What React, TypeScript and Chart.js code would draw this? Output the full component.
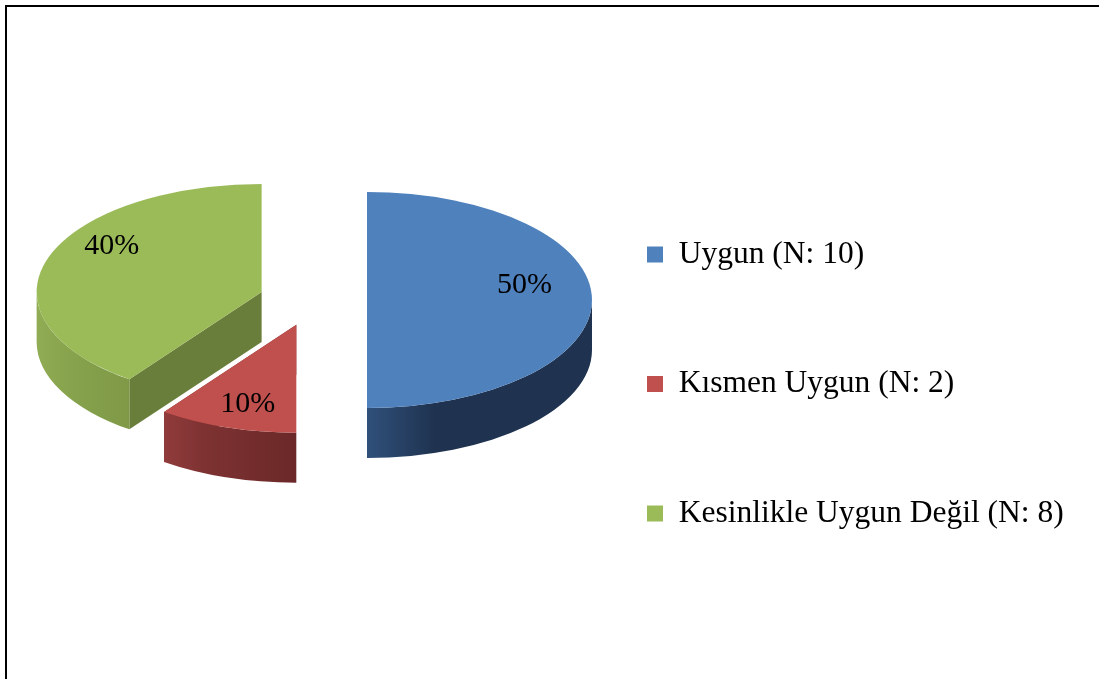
import { useEffect, useRef } from 'react';
import { Chart, registerables } from 'chart.js';

Chart.register(...registerables);

// ---- data ----
const CATEGORIES = ['Uygun (N: 10)', 'Kısmen Uygun (N: 2)', 'Kesinlikle Uygun Değil (N: 8)'];
const COUNTS = [10, 2, 8];

// ---- styles ----
const TOP_COLORS = ['#4f81bd', '#c0504d', '#9bbb59'];
const FACE_COLORS = ['#23395a', '#7a2e2e', '#6a7e3b'];
const WALL_GRADIENTS = [
  ['#30507a', '#1f3350', '#1f3350'],
  ['#913b3b', '#7e3232', '#6b2828'],
  ['#90ad54', '#88a44d', '#7f9947'],
];
const SERIF = "'Liberation Serif', 'Times New Roman', serif";
const TILT = 0.48; // vertical squash of the pie top (3D view)
const DEPTH = 50; // thickness of the pie in px
const EXPLODE = 54; // explosion distance of each slice
const LEGEND_FONT = 31.5;
const LEGEND_PAD = 40;
const LEGEND_BOX = 16;
const LEGEND_X = 647; // left edge of the legend boxes
const CANVAS_W = 1099;
const CANVAS_H = 679;

type Slice = { i: number; cx: number; cy: number; R: number; ry: number; start: number; end: number };

function drawSlice(ctx: CanvasRenderingContext2D, s: Slice) {
  const { i, cx, cy, R, ry, start, end } = s;
  // radial cut faces
  for (const a of [start, end]) {
    const px = cx + R * Math.cos(a);
    const py = cy + ry * Math.sin(a);
    ctx.beginPath();
    ctx.moveTo(cx, cy);
    ctx.lineTo(px, py);
    ctx.lineTo(px, py + DEPTH);
    ctx.lineTo(cx, cy + DEPTH);
    ctx.closePath();
    ctx.fillStyle = FACE_COLORS[i];
    ctx.fill();
  }
  // outer curved wall (front half only)
  const lo = Math.max(start, 0);
  const hi = Math.min(end, Math.PI);
  if (hi > lo) {
    ctx.beginPath();
    ctx.ellipse(cx, cy, R, ry, 0, lo, hi, false);
    ctx.ellipse(cx, cy + DEPTH, R, ry, 0, hi, lo, true);
    ctx.closePath();
    const xl = cx + R * Math.cos(hi);
    const xr = cx + R * Math.cos(lo);
    const g = ctx.createLinearGradient(xl, 0, xr, 0);
    const stops = WALL_GRADIENTS[i];
    g.addColorStop(0, stops[0]);
    g.addColorStop(0.3, stops[1]);
    g.addColorStop(1, stops[2]);
    ctx.fillStyle = g;
    ctx.fill();
  }
  // top face
  ctx.beginPath();
  ctx.moveTo(cx, cy);
  ctx.ellipse(cx, cy, R, ry, 0, start, end, false);
  ctx.closePath();
  ctx.fillStyle = TOP_COLORS[i];
  ctx.fill();
}

const pie3d = {
  id: 'pie3d',
  beforeDatasetsDraw(chart: any) {
    const ctx: CanvasRenderingContext2D = chart.ctx;
    const meta = chart.getDatasetMeta(0);
    const data = chart.data.datasets[0].data as number[];
    const total = data.reduce((a, b) => a + b, 0);
    const slices: Slice[] = meta.data.map((el: any, i: number) => {
      const p = el.getProps(['x', 'y', 'startAngle', 'endAngle', 'outerRadius'], true);
      const mid = (p.startAngle + p.endAngle) / 2;
      const R = p.outerRadius;
      return {
        i,
        cx: p.x + Math.cos(mid) * EXPLODE,
        cy: p.y + Math.sin(mid) * EXPLODE * TILT,
        R,
        ry: R * TILT,
        start: p.startAngle,
        end: p.endAngle,
      };
    });
    ctx.save();
    [...slices].sort((a, b) => a.cy - b.cy).forEach((s) => drawSlice(ctx, s));
    // percentage labels
    ctx.fillStyle = '#000';
    ctx.font = `30px ${SERIF}`;
    ctx.textAlign = 'center';
    ctx.textBaseline = 'middle';
    slices.forEach((s) => {
      const mid = (s.start + s.end) / 2;
      const lx = s.cx + Math.cos(mid) * 0.7 * s.R;
      const ly = s.cy + Math.sin(mid) * 0.92 * s.ry - 15;
      const pct = Math.round((data[s.i] / total) * 100) + '%';
      ctx.fillText(pct, lx, ly);
    });
    ctx.restore();
    return false;
  },
};

export default function App() {
  const ref = useRef<HTMLCanvasElement>(null);
  useEffect(() => {
    document.body.style.margin = '0';
    // measure widest legend text so the legend sits where the reference has it
    const m = document.createElement('canvas').getContext('2d')!;
    m.font = `${LEGEND_FONT}px ${SERIF}`;
    const maxText = Math.max(...CATEGORIES.map((c) => m.measureText(c).width));
    const legendWidth = LEGEND_PAD + LEGEND_BOX + LEGEND_FONT / 2 + maxText + 10;
    const legendLeft = LEGEND_X - LEGEND_PAD;
    const padRight = CANVAS_W - legendLeft - legendWidth;
    const pieCenterX = 313;
    const padLeft = 2 * pieCenterX - legendLeft;

    const chart = new Chart(ref.current!, {
      type: 'pie',
      data: {
        labels: CATEGORIES,
        datasets: [
          {
            data: COUNTS,
            backgroundColor: TOP_COLORS,
            borderWidth: 0,
          },
        ],
      },
      options: {
        responsive: false,
        animation: false,
        events: [],
        radius: 225,
        layout: { padding: { left: padLeft, right: padRight, top: 147, bottom: 0 } },
        plugins: {
          tooltip: { enabled: false },
          title: {
            display: true,
            position: 'bottom',
            text: '',
            font: { size: 10, lineHeight: 1 },
            padding: { top: 0, bottom: 216 },
          },
          legend: {
            position: 'right',
            align: 'center',
            labels: {
              color: '#000',
              boxWidth: LEGEND_BOX,
              boxHeight: LEGEND_BOX,
              padding: LEGEND_PAD,
              font: { family: SERIF, size: LEGEND_FONT, lineHeight: 44.75 / LEGEND_FONT },
              generateLabels: (ch: any) =>
                (ch.data.labels as string[]).map((text, i) => ({
                  text: [text, ''],
                  fillStyle: TOP_COLORS[i],
                  strokeStyle: TOP_COLORS[i],
                  fontColor: '#000',
                  lineWidth: 0,
                  hidden: false,
                  index: i,
                })),
            },
          },
        },
      } as any,
      plugins: [pie3d],
    });
    return () => chart.destroy();
  }, []);
  return (
    <div style={{ position: 'fixed', left: 0, top: 0, width: CANVAS_W, height: CANVAS_H, overflow: 'hidden', background: '#fff' }}>
      <canvas ref={ref} width={CANVAS_W} height={CANVAS_H} style={{ position: 'absolute', left: 0, top: 0 }} />
      <div
        style={{
          position: 'absolute',
          left: 5,
          top: 5,
          width: 2000,
          height: 2000,
          border: '2px solid #000',
          pointerEvents: 'none',
        }}
      />
    </div>
  );
}
